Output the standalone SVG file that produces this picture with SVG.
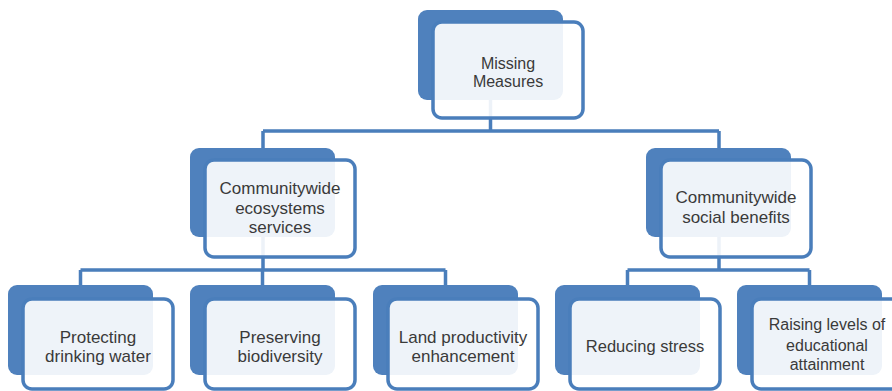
<svg xmlns="http://www.w3.org/2000/svg" width="892" height="391" viewBox="0 0 892 391">
  <style>
    .back { fill: #4f81bd; }
    .front { fill: #ffffff; fill-opacity: 0.9; stroke: #4a7ebb; stroke-width: 3.5; }
    .link { fill: none; stroke: #4a7ebb; stroke-width: 3.5; stroke-linejoin: miter; }
    text { font-family: "Liberation Sans", Arial, sans-serif; fill: #3a3a3a; text-anchor: middle; }
    .t16 { font-size: 16px; }
    .t17 { font-size: 17px; }
    .t165 { font-size: 16.5px; }
  </style>

  <!-- connectors sit under the nodes so the translucent panels let them show faintly -->
  <g id="connectors">
    <path class="link" d="M490.5 95 V131 M263 131 H719 M263 131 V150 M719 131 V150"/>
    <path class="link" d="M263 232 V270 M80.5 270 H445.5 M80.5 270 V288 M262.5 270 V288 M445.5 270 V288"/>
    <path class="link" d="M719 232 V270 M627.5 270 H809.5 M627.5 270 V288 M809.5 270 V288"/>
  </g>

  <g id="node-missing-measures">
    <rect class="back" x="418" y="10" width="145" height="90" rx="9"/>
    <rect class="front" x="433" y="22" width="150" height="96" rx="9"/>
    <text class="t16" x="508" y="69">Missing</text>
    <text class="t16" x="508" y="87">Measures</text>
  </g>

  <g id="node-ecosystems-services">
    <rect class="back" x="190" y="148" width="145" height="89" rx="9"/>
    <rect class="front" x="205" y="160" width="150" height="97" rx="9"/>
    <text class="t17" x="280" y="194">Communitywide</text>
    <text class="t17" x="280" y="214">ecosystems</text>
    <text class="t17" x="280" y="233">services</text>
  </g>

  <g id="node-social-benefits">
    <rect class="back" x="646" y="148" width="145" height="89" rx="9"/>
    <rect class="front" x="661" y="160" width="150" height="97" rx="9"/>
    <text class="t17" x="736" y="203">Communitywide</text>
    <text class="t17" x="736" y="223">social benefits</text>
  </g>

  <g id="node-drinking-water">
    <rect class="back" x="8" y="285" width="145" height="90" rx="9"/>
    <rect class="front" x="23" y="299" width="150" height="90" rx="9"/>
    <text class="t17" x="98" y="343">Protecting</text>
    <text class="t17" x="98" y="362">drinking water</text>
  </g>

  <g id="node-biodiversity">
    <rect class="back" x="190" y="285" width="145" height="90" rx="9"/>
    <rect class="front" x="205" y="299" width="150" height="90" rx="9"/>
    <text class="t17" x="280" y="343">Preserving</text>
    <text class="t17" x="280" y="362">biodiversity</text>
  </g>

  <g id="node-land-productivity">
    <rect class="back" x="373" y="285" width="145" height="90" rx="9"/>
    <rect class="front" x="388" y="299" width="150" height="90" rx="9"/>
    <text class="t17" x="463" y="343">Land productivity</text>
    <text class="t17" x="463" y="362">enhancement</text>
  </g>

  <g id="node-reducing-stress">
    <rect class="back" x="555" y="285" width="145" height="90" rx="9"/>
    <rect class="front" x="570" y="299" width="150" height="90" rx="9"/>
    <text class="t165" x="645" y="352">Reducing stress</text>
  </g>

  <g id="node-educational-attainment">
    <rect class="back" x="737" y="285" width="145" height="90" rx="9"/>
    <rect class="front" x="752" y="299" width="150" height="90" rx="9"/>
    <text class="t16" x="827" y="330">Raising levels of</text>
    <text class="t16" x="827" y="351">educational</text>
    <text class="t16" x="827" y="370">attainment</text>
  </g>
</svg>
